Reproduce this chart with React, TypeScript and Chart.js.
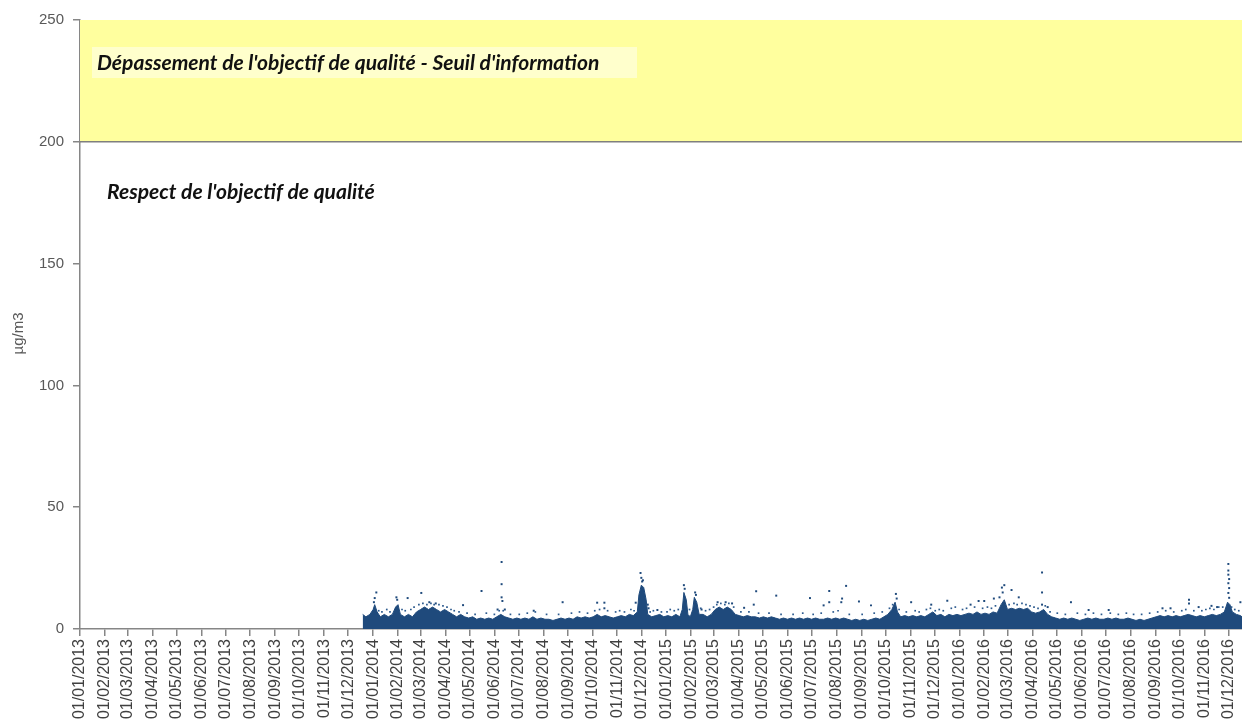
import React, { useEffect, useRef } from "react";
import { Chart, registerables } from "chart.js";

Chart.register(...registerables);

const monthLabels = [
  "01/01/2013","01/02/2013","01/03/2013","01/04/2013","01/05/2013","01/06/2013","01/07/2013","01/08/2013","01/09/2013","01/10/2013","01/11/2013","01/12/2013",
  "01/01/2014","01/02/2014","01/03/2014","01/04/2014","01/05/2014","01/06/2014","01/07/2014","01/08/2014","01/09/2014","01/10/2014","01/11/2014","01/12/2014",
  "01/01/2015","01/02/2015","01/03/2015","01/04/2015","01/05/2015","01/06/2015","01/07/2015","01/08/2015","01/09/2015","01/10/2015","01/11/2015","01/12/2015",
  "01/01/2016","01/02/2016","01/03/2016","01/04/2016","01/05/2016","01/06/2016","01/07/2016","01/08/2016","01/09/2016","01/10/2016","01/11/2016","01/12/2016",
];

const yTicks = [0, 50, 100, 150, 200, 250];
const yTitle = "µg/m3";
const thresholdLow = 200;
const thresholdHigh = 250;
const labelExceed = "Dépassement de l'objectif de qualité - Seuil d'information";
const labelRespect = "Respect de l'objectif de qualité";
const axisEndDate = "2016-12-18";

// Dense band of hourly measurements: upper edge of the solid cloud
const coreDates = [
  "2013-12-19","2013-12-23","2013-12-28","2014-01-01","2014-01-03","2014-01-06","2014-01-10","2014-01-15","2014-01-20","2014-01-25",
  "2014-01-29","2014-02-01","2014-02-04","2014-02-09","2014-02-14","2014-02-19","2014-02-24","2014-03-01","2014-03-06","2014-03-11",
  "2014-03-16","2014-03-21","2014-03-26","2014-03-31","2014-04-05","2014-04-10","2014-04-15","2014-04-20","2014-04-25","2014-04-30",
  "2014-05-05","2014-05-10","2014-05-15","2014-05-20","2014-05-25","2014-05-30","2014-06-04","2014-06-09","2014-06-14","2014-06-19",
  "2014-06-24","2014-06-29","2014-07-04","2014-07-09","2014-07-14","2014-07-19","2014-07-24","2014-07-29","2014-08-03","2014-08-08",
  "2014-08-13","2014-08-18","2014-08-23","2014-08-28","2014-09-02","2014-09-07","2014-09-12","2014-09-17","2014-09-22","2014-09-27",
  "2014-10-02","2014-10-07","2014-10-12","2014-10-17","2014-10-22","2014-10-27","2014-11-01","2014-11-06","2014-11-11","2014-11-16",
  "2014-11-21","2014-11-26","2014-11-28","2014-12-01","2014-12-04","2014-12-07","2014-12-09","2014-12-14","2014-12-19","2014-12-24",
  "2014-12-29","2015-01-03","2015-01-08","2015-01-13","2015-01-18","2015-01-21","2015-01-23","2015-01-26","2015-01-28","2015-01-31",
  "2015-02-03","2015-02-05","2015-02-08","2015-02-11","2015-02-16","2015-02-21","2015-02-26","2015-03-03","2015-03-08","2015-03-13",
  "2015-03-18","2015-03-23","2015-03-28","2015-04-02","2015-04-07","2015-04-12","2015-04-17","2015-04-22","2015-04-27","2015-05-02",
  "2015-05-07","2015-05-12","2015-05-17","2015-05-22","2015-05-27","2015-06-01","2015-06-06","2015-06-11","2015-06-16","2015-06-21",
  "2015-06-26","2015-07-01","2015-07-06","2015-07-11","2015-07-16","2015-07-21","2015-07-26","2015-07-31","2015-08-05","2015-08-10",
  "2015-08-15","2015-08-20","2015-08-25","2015-08-30","2015-09-04","2015-09-09","2015-09-14","2015-09-19","2015-09-24","2015-09-29",
  "2015-10-04","2015-10-09","2015-10-13","2015-10-16","2015-10-20","2015-10-25","2015-10-30","2015-11-04","2015-11-09","2015-11-14",
  "2015-11-19","2015-11-24","2015-11-29","2015-12-04","2015-12-09","2015-12-14","2015-12-19","2015-12-24","2015-12-29","2016-01-03",
  "2016-01-08","2016-01-13","2016-01-18","2016-01-23","2016-01-28","2016-02-02","2016-02-07","2016-02-12","2016-02-17","2016-02-22",
  "2016-02-26","2016-03-01","2016-03-06","2016-03-11","2016-03-16","2016-03-21","2016-03-26","2016-03-31","2016-04-05","2016-04-10",
  "2016-04-15","2016-04-20","2016-04-25","2016-04-30","2016-05-05","2016-05-10","2016-05-15","2016-05-20","2016-05-25","2016-05-30",
  "2016-06-04","2016-06-09","2016-06-14","2016-06-19","2016-06-24","2016-06-29","2016-07-04","2016-07-09","2016-07-14","2016-07-19",
  "2016-07-24","2016-07-29","2016-08-03","2016-08-08","2016-08-13","2016-08-18","2016-08-23","2016-08-28","2016-09-02","2016-09-07",
  "2016-09-12","2016-09-17","2016-09-22","2016-09-27","2016-10-02","2016-10-07","2016-10-12","2016-10-17","2016-10-22","2016-10-27",
  "2016-11-01","2016-11-06","2016-11-11","2016-11-16","2016-11-21","2016-11-26","2016-11-30","2016-12-03","2016-12-06","2016-12-11",
  "2016-12-16","2016-12-18",
];
const coreTop = [
  6,5,6,8,10,7,5,6,5,6,
  9,10,6,5,6,5,7,8,9,8,
  9,8,7,8,7,6,5,6,5,4.5,
  5,4,4.5,4,4.5,4,5,6,5,4.5,
  4,4.5,4,4.5,4,5,4,4.5,4,4,
  3.5,4,4.5,4,4.5,4,5,4.5,5,4.5,
  5,6,5,5.5,5,4.5,5,5.5,5,6,
  5.5,7,14,18,17,12,6,5,5.5,6,
  5,5.5,5,6,5,8,15,12,6,5,
  8,13,11,6,6,5,6,8,9,8,
  9,8,6,5.5,5,5.5,5,5,4.5,5,
  4.5,5,4.5,4,4.5,4,4.5,4,4.5,4,
  4.5,4,4.5,4,4,4.5,4,4.5,4,4.5,
  4,3.5,4,3.5,4,3.5,4,4.5,4,5,
  6,8,11,7,5,5.5,5,5.5,5,5.5,
  5,6,7,5.5,6,5,6,5.5,6,5.5,
  6,6.5,6,7,6,6.5,6,7,6.5,10,
  12,8,8.5,8,8.5,8,8.5,7,6.5,7,
  8,6,5,4.5,4,4.5,4,4.5,4,3.5,
  4,4.5,4,4.5,4,4,4.5,4,4.5,4,
  4,4.5,4,3.5,4,3.5,4,4.5,5,5.5,
  5,5.5,5,5.5,5,5.5,6,5.5,5,5.5,
  5,5.5,6,5.5,6,7,11,10,7,6,
  5.5,5,
];

// Scattered hourly values just above the dense band
const speckleDates = [
  "2014-01-08","2014-01-12","2014-01-18","2014-01-22","2014-02-06","2014-02-10","2014-02-17","2014-02-21","2014-02-27","2014-03-04",
  "2014-03-09","2014-03-14","2014-03-18","2014-03-24","2014-03-29","2014-04-03","2014-04-08","2014-04-12","2014-04-18","2014-04-28",
  "2014-05-08","2014-05-22","2014-06-01","2014-06-07","2014-06-12","2014-06-21","2014-07-02","2014-07-12","2014-07-22","2014-08-05",
  "2014-08-20","2014-09-05","2014-09-15","2014-09-25","2014-10-04","2014-10-10","2014-10-20","2014-10-30","2014-11-04","2014-11-10",
  "2014-11-18","2014-11-22","2014-12-12","2014-12-16","2014-12-26","2015-01-02","2015-01-06","2015-01-11","2015-01-16","2015-01-30",
  "2015-02-13","2015-02-19","2015-02-24","2015-03-01","2015-03-05","2015-03-10","2015-03-15","2015-03-20","2015-03-26","2015-04-04",
  "2015-04-14","2015-04-26","2015-05-09","2015-05-24","2015-06-08","2015-06-20","2015-07-03","2015-07-13","2015-07-28","2015-08-03",
  "2015-08-17","2015-09-02","2015-09-17","2015-09-27","2015-10-06","2015-10-10","2015-10-18","2015-10-27","2015-11-07","2015-11-12",
  "2015-11-21","2015-11-26","2015-12-02","2015-12-07","2015-12-12","2015-12-22","2015-12-27","2016-01-05","2016-01-10","2016-01-20",
  "2016-01-30","2016-02-05","2016-02-10","2016-02-15","2016-03-03","2016-03-09","2016-03-13","2016-03-19","2016-03-24","2016-03-29",
  "2016-04-03","2016-04-08","2016-04-17","2016-04-23","2016-05-02","2016-05-12","2016-05-27","2016-06-06","2016-06-16","2016-06-26",
  "2016-07-07","2016-07-17","2016-07-27","2016-08-05","2016-08-15","2016-08-25","2016-09-04","2016-09-14","2016-09-24","2016-10-04",
  "2016-10-09","2016-10-19","2016-10-29","2016-11-03","2016-11-08","2016-11-13","2016-11-19","2016-11-24","2016-12-05","2016-12-09",
  "2016-12-14",
];
const speckleValues = [
  7.5,7,8,7,8,7.5,8,9,10,10.5,
  10,10.5,10,10,9.5,9,8,7.5,7,6.5,
  6,6.5,6,7.5,7.5,6,6,6.5,7,6,
  6,6.5,7,6.5,7.5,8,7.5,7,7.5,7,
  8,7.5,7,7.5,7,7,8,7.5,8,8,
  8.5,7.5,8,9,10,10.5,10,10.5,9,7,
  7,6.5,6.5,6,6,6.5,6,6.5,7,7.5,
  6,6,6.5,7,8.5,10,8,7,7.5,7,
  8,8.5,7.5,8,7.5,8.5,9,8,8.5,9,
  8.5,9,8.5,9.5,10,10.5,10,10.5,10,9.5,
  9,8.5,9.5,7,6.5,6,6.5,6,6.5,6,
  6.5,6,6.5,6,6,6.5,7,7.5,7,7.5,
  8,7.5,7.5,8,8.5,8,9,9,9,8,
  7.5,
];

// Individual hourly values standing out well above the dense band
const peakDates = [
  "2014-01-02","2014-01-03","2014-01-05","2014-01-30","2014-01-31","2014-02-13","2014-03-02","2014-03-12","2014-03-20","2014-04-23",
  "2014-05-16","2014-06-10","2014-06-10","2014-06-10","2014-06-11","2014-06-05","2014-06-14","2014-07-20","2014-08-25","2014-10-07",
  "2014-10-16","2014-10-16","2014-11-24","2014-11-30","2014-12-01","2014-12-02","2014-12-03","2014-12-09","2014-12-10","2014-12-21",
  "2015-01-23","2015-01-24","2015-02-06","2015-02-07","2015-02-14","2015-03-06","2015-03-16","2015-03-24","2015-04-08","2015-04-20",
  "2015-04-23","2015-05-18","2015-06-29","2015-07-23","2015-07-23","2015-07-16","2015-08-13","2015-08-08","2015-08-07","2015-08-29",
  "2015-09-13","2015-10-14","2015-10-15","2015-11-02","2015-11-27","2015-12-17","2016-01-15","2016-01-25","2016-02-01","2016-02-13",
  "2016-02-20","2016-02-24","2016-02-23","2016-02-26","2016-03-06","2016-03-15","2016-04-13","2016-04-13","2016-04-13","2016-04-20",
  "2016-05-19","2016-06-10","2016-07-05","2016-09-10","2016-09-20","2016-10-13","2016-10-13","2016-10-25","2016-11-10","2016-11-17",
  "2016-12-01","2016-12-01","2016-12-01","2016-12-02","2016-12-01","2016-12-02","2016-12-01","2016-12-02","2016-12-16",
];
const peakValues = [
  11,12.7,15,13,12,12.7,14.8,11,10.5,9.8,
  15.6,27.5,18.4,13,11.5,8,8,7.5,11,10.8,
  10.8,8.5,10.8,23,21,19.5,20,10,8.5,7.8,
  18,16.5,15,14,8,11,11,10.5,8.7,10,
  15.5,13.7,12.7,15.6,11,9.7,17.7,12.5,11,11.3,
  9.7,14.4,12.5,11,10,11.6,10,11.5,11.5,12.5,
  13,15,17,18,16,13,23.2,15,10,9,
  11,7.8,7.8,8.5,8.5,12,10.5,9,9.5,9,
  26.7,24,22.3,20.5,18.8,16.8,14.8,12.8,11,
];

const DAY_MS = 86400000;
const ORIGIN_MS = Date.UTC(2013, 0, 1);
const isoToDay = (iso: string) => (Date.parse(iso) - ORIGIN_MS) / DAY_MS;
const labelToDay = (s: string) => {
  const [d, m, y] = s.split("/").map(Number);
  return (Date.UTC(y, m - 1, d) - ORIGIN_MS) / DAY_MS;
};

const BLUE = "#1F4A7C";
const GREY = "#868686";

function fitFontSize(ctx: CanvasRenderingContext2D, text: string, width: number) {
  ctx.font = "italic bold 20px Lato";
  const w = ctx.measureText(text).width;
  return (20 * width) / w;
}

const backgroundPlugin = {
  id: "zones",
  beforeDatasetsDraw(chart: any) {
    const { ctx, chartArea, scales } = chart;
    const y = scales.y;
    const yHigh = y.getPixelForValue(thresholdHigh);
    const yLow = y.getPixelForValue(thresholdLow);
    ctx.save();
    ctx.fillStyle = "#FFFF9E";
    ctx.fillRect(chartArea.left, yHigh, chartArea.right - chartArea.left, yLow - yHigh);
    ctx.strokeStyle = "#7F7F7F";
    ctx.lineWidth = 1.5;
    ctx.beginPath();
    ctx.moveTo(chartArea.left, yLow);
    ctx.lineTo(chartArea.right, yLow);
    ctx.stroke();
    ctx.fillStyle = "#FFFFCC";
    ctx.fillRect(chartArea.left + 12, yHigh + 27, 545, 31);
    ctx.fillStyle = "#111111";
    ctx.textBaseline = "alphabetic";
    ctx.textAlign = "left";
    const size = fitFontSize(ctx, labelRespect, 268);
    ctx.font = `italic bold ${size.toFixed(2)}px Lato`;
    ctx.fillText(labelExceed, chartArea.left + 17, yHigh + 50);
    ctx.fillText(labelRespect, chartArea.left + 27, yLow + 57);
    ctx.restore();
  },
  afterDraw(chart: any) {
    const { ctx, scales } = chart;
    const y = scales.y;
    ctx.save();
    ctx.translate(19, (y.getPixelForValue(thresholdHigh) + y.getPixelForValue(0)) / 2 + 9);
    ctx.rotate(-Math.PI / 2);
    ctx.fillStyle = "#595959";
    ctx.font = "15px Liberation Sans";
    ctx.textAlign = "center";
    ctx.textBaseline = "middle";
    ctx.fillText(yTitle, 0, 0);
    ctx.restore();
  },
};

export default function App() {
  const ref = useRef<HTMLCanvasElement>(null);
  useEffect(() => {
    if (!ref.current) return;
    const monthDays = monthLabels.map(labelToDay);
    const coreData = coreDates.map((d, i) => ({ x: isoToDay(d), y: coreTop[i] }));
    const speckleData = speckleDates.map((d, i) => ({ x: isoToDay(d), y: speckleValues[i] }));
    const peakData = peakDates.map((d, i) => ({ x: isoToDay(d), y: peakValues[i] }));
    const chart = new Chart(ref.current, {
      type: "scatter",
      data: {
        datasets: [
          {
            type: "line",
            label: "core",
            data: coreData,
            borderColor: BLUE,
            borderWidth: 1,
            backgroundColor: BLUE,
            fill: "origin",
            pointRadius: 0,
            pointHoverRadius: 0,
            tension: 0,
          } as any,
          {
            label: "speckles",
            data: speckleData,
            pointStyle: "rect",
            pointRadius: 1.2,
            pointHoverRadius: 1.2,
            backgroundColor: "#2C5A8E",
            borderColor: "#2C5A8E",
            borderWidth: 0,
          },
          {
            label: "peaks",
            data: peakData,
            pointStyle: "rect",
            pointRadius: 1.4,
            pointHoverRadius: 1.4,
            backgroundColor: BLUE,
            borderColor: BLUE,
            borderWidth: 0,
          },
        ],
      },
      options: {
        responsive: false,
        animation: false,
        layout: { autoPadding: false, padding: { top: 20, right: 0, left: 0, bottom: 0 } },
        plugins: { legend: { display: false }, tooltip: { enabled: false } },
        scales: {
          x: {
            type: "linear",
            min: 0,
            max: isoToDay(axisEndDate),
            afterBuildTicks: (axis: any) => {
              axis.ticks = monthDays.map((v) => ({ value: v }));
            },
            afterFit: (s: any) => {
              s.height = 97;
              s.paddingRight = 0;
            },
            ticks: {
              autoSkip: false,
              minRotation: 90,
              maxRotation: 90,
              padding: 3,
              color: "#404040",
              font: { family: "Liberation Sans", size: 16 },
              callback: (_v: any, i: number) => monthLabels[i],
            },
            grid: { display: true, drawOnChartArea: false, drawTicks: true, tickLength: 7, color: GREY, lineWidth: 1.5 },
            border: { display: true, color: GREY, width: 1.5 },
          },
          y: {
            min: 0,
            max: 250,
            afterBuildTicks: (axis: any) => {
              axis.ticks = yTicks.map((v) => ({ value: v }));
            },
            afterFit: (s: any) => {
              s.width = 80;
            },
            ticks: {
              padding: 9,
              color: "#595959",
              font: { family: "Liberation Sans", size: 15 },
            },
            grid: { display: true, drawOnChartArea: false, drawTicks: true, tickLength: 7, color: GREY, lineWidth: 1.5 },
            border: { display: true, color: GREY, width: 1.5 },
          },
        },
      },
      plugins: [backgroundPlugin],
    } as any);
    return () => chart.destroy();
  }, []);
  return (
    <div style={{ position: "fixed", left: 0, top: 0, width: 1242, height: 726, background: "#fff" }}>
      <canvas ref={ref} width={1242} height={726} style={{ display: "block" }} />
    </div>
  );
}
